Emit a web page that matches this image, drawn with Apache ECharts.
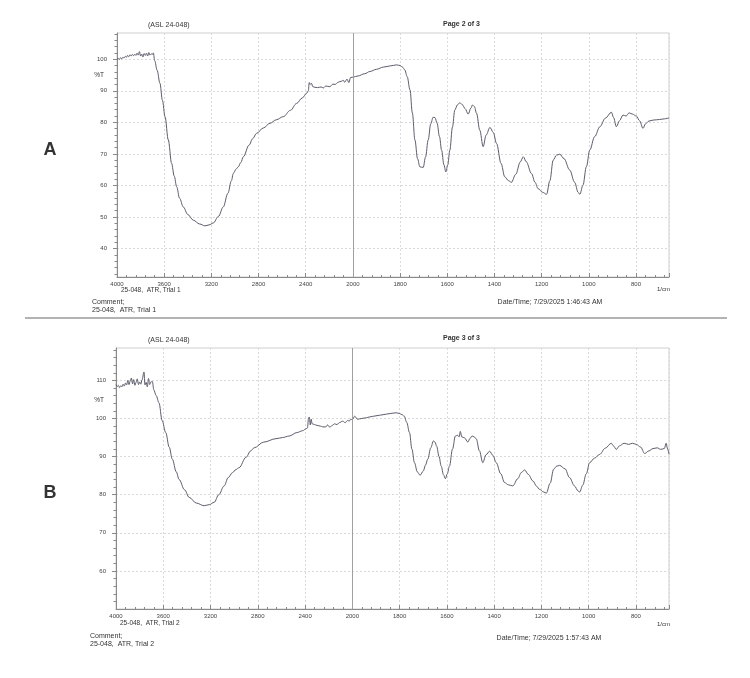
<!DOCTYPE html>
<html>
<head>
<meta charset="utf-8">
<title>FTIR ATR spectra</title>
<script src="https://cdn.jsdelivr.net/npm/echarts@6/dist/echarts.min.js"></script>
<style>
  html, body { margin: 0; padding: 0; background: #fff; }
  #main { width: 750px; height: 678px; }
</style>
</head>
<body>
<div id="main"></div>
<script>
// wavenumbers (1/cm) and %T
var waveA = [4000,3990,3980,3970,3960,3950,3940,3930,3920,3910,3900,3890,3880,3870,3860,3850,3840,3830,3820,3810,3800,3790,3780,3770,3760,3750,3740,3730,3720,3710,3700,3692,3680,3660,3636,3615,3593,3565,3537,3515,3494,3470,3438,3400,3353,3300,3254,3220,3184,3140,3099,3060,3030,3014,2990,2972,2950,2929,2880,2850,2817,2760,2703,2650,2590,2530,2477,2430,2392,2378,2370,2362,2352,2340,2322,2300,2270,2250,2230,2195,2170,2150,2130,2110,2090,2082,2070,2050,2034,2020,2000,1978,1950,1928,1900,1870,1840,1815,1800,1790,1780,1770,1758,1748,1737,1726,1716,1702,1692,1681,1670,1660,1652,1643,1633,1624,1614,1606,1598,1589,1578,1568,1557,1547,1536,1525,1511,1500,1493,1485,1476,1462,1448,1435,1419,1405,1391,1372,1356,1340,1328,1310,1290,1278,1265,1243,1228,1215,1195,1179,1165,1151,1137,1123,1105,1081,1060,1045,1038,1025,1010,996,975,953,930,904,895,883,870,855,842,829,815,798,785,770,760,745,728,700,680,660];
var transA = [100.0,100.3,99.9,100.5,100.1,100.6,100.4,100.9,100.6,101.2,100.8,101.4,101.0,101.5,101.1,101.6,101.2,101.9,101.3,102.4,101.0,101.6,100.7,101.8,101.2,101.9,101.0,102.1,101.3,101.7,101.5,102.0,99.5,96.5,92.4,87.0,81.8,74.4,67.0,63.0,59.6,56.0,53.2,50.8,49.0,47.8,47.2,47.5,48.1,50.2,53.2,57.5,61.5,63.8,65.2,65.9,67.3,69.1,72.8,74.8,76.5,78.2,79.7,80.8,81.8,83.8,86.0,87.7,89.2,90.0,92.6,92.0,92.4,91.3,91.1,91.0,91.2,90.9,91.5,91.3,92.1,92.0,92.6,92.9,93.1,93.4,92.7,93.7,92.6,94.2,94.3,94.7,95.4,96.1,96.8,97.5,97.9,98.2,98.0,97.5,96.6,94.5,90.3,83.0,74.4,68.5,65.9,65.7,69.0,74.4,79.5,81.6,81.5,79.7,75.5,71.2,66.5,64.3,66.5,71.2,78.5,83.9,85.5,86.2,85.6,84.4,82.6,84.5,85.5,85.0,82.9,77.5,72.3,76.0,78.4,76.8,73.3,67.0,62.7,61.5,61.0,63.5,67.5,69.1,67.5,63.8,61.0,59.0,57.8,57.2,61.5,68.0,69.6,69.9,68.5,64.9,61.0,57.8,57.2,60.0,66.0,71.2,75.5,78.6,81.3,83.2,81.5,78.6,80.5,82.3,82.0,83.0,82.6,82.0,80.5,78.1,79.5,80.4,80.7,80.9,81.1,81.4];

var waveB = [4000,3990,3980,3970,3960,3950,3940,3930,3920,3910,3900,3890,3880,3870,3860,3850,3840,3830,3820,3810,3800,3790,3780,3763,3755,3745,3735,3725,3715,3705,3692,3680,3660,3636,3610,3579,3550,3523,3490,3466,3420,3381,3320,3254,3210,3169,3130,3085,3050,3014,2985,2958,2900,2860,2831,2750,2646,2590,2534,2470,2420,2392,2380,2370,2364,2356,2348,2340,2320,2300,2270,2250,2224,2210,2190,2170,2150,2130,2110,2082,2060,2040,2026,2015,2000,1990,1978,1960,1940,1928,1900,1870,1840,1815,1800,1790,1780,1770,1758,1748,1737,1725,1713,1700,1690,1681,1668,1657,1650,1643,1633,1624,1614,1606,1598,1589,1576,1564,1555,1548,1543,1537,1525,1511,1502,1493,1485,1476,1462,1448,1434,1419,1405,1391,1372,1356,1340,1321,1300,1285,1271,1255,1236,1220,1208,1190,1179,1163,1148,1135,1123,1100,1081,1060,1045,1038,1025,1010,996,975,953,930,904,895,883,870,850,830,815,798,780,763,745,728,710,695,680,672,666,660];
var transB = [108.9,108.4,108.7,108.1,108.6,108.3,109.0,108.5,109.3,108.8,110.0,108.9,109.8,110.6,109.1,110.2,108.7,109.5,110.4,108.9,109.6,109.0,110.1,112.2,108.8,109.5,108.3,110.5,108.9,109.6,109.7,107.5,106.0,104.1,99.5,96.3,92.5,89.3,86.0,84.0,81.3,79.3,77.8,77.1,77.4,78.0,80.0,82.3,84.5,85.8,86.6,87.1,89.8,91.5,92.3,93.8,94.7,95.0,95.4,96.3,96.8,97.3,97.5,100.2,100.4,98.3,99.8,98.6,98.4,98.2,98.0,97.8,97.8,98.3,97.7,98.2,98.6,98.4,98.9,99.3,98.9,99.5,99.3,99.8,99.7,100.6,99.8,100.0,100.2,100.4,100.7,101.0,101.3,101.5,101.3,101.0,100.6,99.0,96.3,92.0,88.4,86.0,85.1,86.2,87.8,89.3,92.3,94.1,93.8,92.7,90.0,87.5,85.2,84.2,85.5,87.5,92.0,95.4,95.6,95.2,96.6,95.2,94.9,93.8,94.8,95.4,95.2,94.7,91.5,88.4,90.5,91.4,90.3,88.4,85.5,83.2,82.6,82.3,84.2,85.8,86.5,85.3,83.6,82.2,81.4,80.7,80.4,83.0,86.7,87.5,87.7,86.8,84.5,82.3,81.0,80.7,82.5,85.5,88.4,89.6,90.6,92.2,93.5,92.8,91.9,92.8,93.5,93.2,93.5,93.2,92.5,90.8,91.5,92.1,92.3,91.9,92.1,93.5,92.0,90.6];

var yTicksA = [40, 50, 60, 70, 80, 90, 100];
var yTicksB = [60, 70, 80, 90, 100, 110];

// printer axis: 4000-2000 at half scale, below 2000 at full scale
function toPos(w) { return w >= 2000 ? (4000 - w) / 2 : 1000 + (2000 - w); }
function toWave(p) { return p <= 1000 ? 4000 - 2 * p : 2000 - (p - 1000); }

function pairs(ws, ts) {
    var out = [];
    for (var i = 0; i < ws.length; i++) out.push([toPos(ws[i]), ts[i]]);
    return out;
}
function evens(a, b) {
    var out = [];
    for (var v = a; v <= b; v += 2) out.push(v);
    return out;
}

var labelFont = 'Liberation Sans';
var gridLine = { show: true, lineStyle: { color: '#d9d9d9', type: [2, 2], width: 1 } };

function xAxisFor(gi) {
    return {
        type: 'value', gridIndex: gi, min: 0, max: 2340, interval: 200,
        axisLine: { lineStyle: { color: '#8a8a8a' } },
        axisTick: { inside: true, length: 4, lineStyle: { color: '#8a8a8a' } },
        minorTick: { show: true, splitNumber: 5, length: 2, lineStyle: { color: '#8a8a8a' } },
        splitLine: gridLine,
        axisLabel: {
            fontSize: 6, color: '#444', margin: 4, fontFamily: labelFont, showMaxLabel: false,
            formatter: function (p) { return p % 200 === 0 ? String(toWave(p)) : ''; }
        }
    };
}
function yMajor(gi, mn, mx, ticks) {
    return {
        type: 'value', gridIndex: gi, min: mn, max: mx, position: 'left',
        axisLine: { show: true, lineStyle: { color: '#8a8a8a' } },
        axisTick: { show: true, length: 4, customValues: ticks, lineStyle: { color: '#8a8a8a' } },
        axisLabel: { customValues: ticks, fontSize: 6, color: '#444', margin: 10, fontFamily: labelFont },
        splitLine: gridLine
    };
}
function yMinor(gi, mn, mx, ticks) {
    return {
        type: 'value', gridIndex: gi, min: mn, max: mx, position: 'left',
        axisLine: { show: false },
        axisTick: { show: true, length: 2.5, customValues: ticks, lineStyle: { color: '#8a8a8a' } },
        axisLabel: { show: false },
        splitLine: { show: false }
    };
}
function spectrum(xi, yi, data) {
    return {
        type: 'line', xAxisIndex: xi, yAxisIndex: yi, data: data,
        showSymbol: false, silent: true, animation: false,
        smooth: 0.35, smoothMonotone: 'x',
        lineStyle: { color: '#5c5d6c', width: 1 },
        markLine: {
            silent: true, symbol: 'none', label: { show: false },
            lineStyle: { color: '#a0a0a0', type: 'solid', width: 1 },
            data: [{ xAxis: 1000 }]
        }
    };
}

function txt(t, x, y, size, align, bold) {
    return {
        type: 'text', silent: true,
        style: {
            text: t, x: x, y: y, fill: '#333', fontSize: size, fontFamily: labelFont,
            fontWeight: bold ? 'bold' : 'normal', textAlign: align || 'left', textVerticalAlign: 'middle'
        }
    };
}

var myChart = echarts.init(document.getElementById('main'), null, { renderer: 'canvas' });
var option = {
    backgroundColor: '#fff',
    animation: false,
    grid: [
        { left: 117, top: 33, right: 81, height: 244, show: true, borderColor: '#cfcfcf', borderWidth: 1 },
        { left: 116, top: 348, right: 81, height: 261, show: true, borderColor: '#cfcfcf', borderWidth: 1 }
    ],
    xAxis: [xAxisFor(0), xAxisFor(1)],
    yAxis: [
        yMajor(0, 31, 108.3, yTicksA), yMinor(0, 31, 108.3, evens(32, 108)),
        yMajor(1, 50, 118.5, yTicksB), yMinor(1, 50, 118.5, evens(52, 118))
    ],
    series: [
        spectrum(0, 0, pairs(waveA, transA)),
        spectrum(1, 2, pairs(waveB, transB))
    ],
    graphic: [
        txt('(ASL 24-048)', 148, 25, 7),
        txt('Page 2 of 3', 443, 24, 7, 'left', true),
        txt('A', 50, 150, 18, 'center', true),
        txt('%T', 104, 75, 6.5, 'right'),
        txt('25-048,  ATR, Trial 1', 121, 290, 6.5),
        txt('1/cm', 657, 289, 6),
        txt('Comment;', 92, 302.5, 7),
        txt('25-048,  ATR, Trial 1', 92, 310.5, 7),
        txt('Date/Time; 7/29/2025 1:46:43 AM', 550, 302, 7, 'center'),
        {
            type: 'line', silent: true,
            shape: { x1: 25, y1: 318, x2: 727, y2: 318 },
            style: { stroke: '#9a9a9a', lineWidth: 1.5 }
        },
        txt('(ASL 24-048)', 148, 340, 7),
        txt('Page 3 of 3', 443, 338, 7, 'left', true),
        txt('B', 50, 493, 18, 'center', true),
        txt('%T', 104, 400, 6.5, 'right'),
        txt('25-048,  ATR, Trial 2', 120, 623, 6.5),
        txt('1/cm', 657, 624, 6),
        txt('Comment;', 90, 636, 7),
        txt('25-048,  ATR, Trial 2', 90, 644, 7),
        txt('Date/Time; 7/29/2025 1:57:43 AM', 549, 638, 7, 'center')
    ]
};
myChart.setOption(option);
</script>
</body>
</html>
